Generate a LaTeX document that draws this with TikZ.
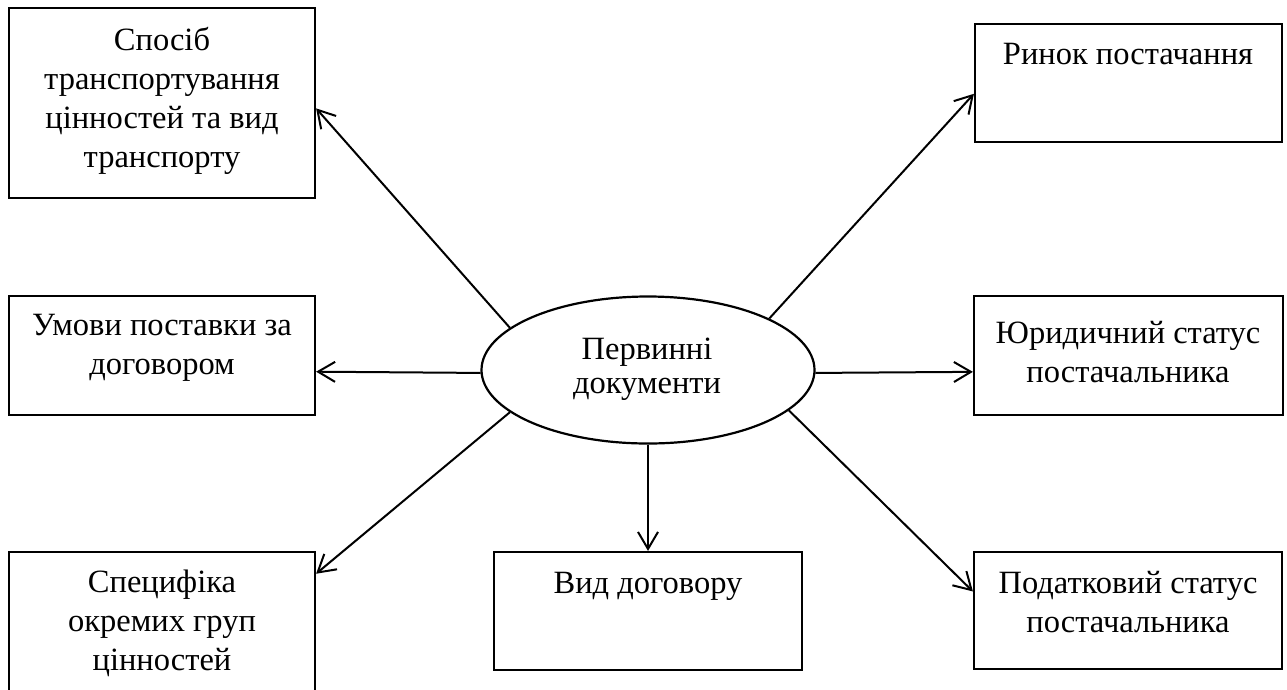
\documentclass[tikz,border=0pt]{standalone}
\usepackage{fontspec}
\setmainfont{Liberation Serif}
\usetikzlibrary{arrows.meta,shapes.geometric,calc}
\begin{document}
\begin{tikzpicture}[x=1pt,y=-1pt,
  box/.style={draw, line width=2.2pt, rectangle, inner sep=0pt},
  lbl/.style={anchor=north, inner sep=0pt, align=center, font=\fontsize{32.5}{39}\selectfont},
  arr/.style={line width=2pt, -{Straight Barb[length=17pt,width=20pt]}}]
\clip (0,0) rectangle (1287,689);
\fill[white] (0,0) rectangle (1287,689);
% boxes
\node[box, minimum width=306pt, minimum height=190pt] (tl) at (162,103) {};
\node[box, minimum width=307pt, minimum height=118pt] (tr) at (1128.5,83) {};
\node[box, minimum width=306pt, minimum height=119pt] (ml) at (162,355.5) {};
\node[box, minimum width=309pt, minimum height=119pt] (mr) at (1128.5,355.5) {};
\node[box, minimum width=306pt, minimum height=168pt] (bl) at (162,636) {};
\node[box, minimum width=308pt, minimum height=118pt] (bc) at (648,611) {};
\node[box, minimum width=308pt, minimum height=117pt] (br) at (1128,610.5) {};
\node[draw, ellipse, line width=2.2pt, minimum width=333pt, minimum height=147pt, inner sep=0pt] (el) at (648,370) {};
% texts
\node[lbl] (tlt) at (162,22.7) {\strut Спосіб\\транспортування\\цінностей та вид\\транспорту};
\node[lbl] (trt) at (1128,36.7) {\strut Ринок постачання};
\node[lbl] (mlt) at (162,307.7) {\strut Умови поставки за\\договором};
\node[lbl] (mrt) at (1128,315.7) {\strut Юридичний статус\\постачальника};
\node[lbl] (blt) at (162,564.7) {\strut Специфіка\\окремих груп\\цінностей};
\node[lbl] (bct) at (648,565.7) {\strut Вид договору};
\node[lbl] (brt) at (1128,565.7) {\strut Податковий статус\\постачальника};
\node[lbl, font=\fontsize{32.5}{34}\selectfont] (elt) at (647,335.7) {\strut Первинні\\документи};
% arrows
\draw[arr] (el.163) -- (tl.-2.6);
\draw[arr] (el.23) -- (tr.-176.6);
\draw[arr] (el.181.7) -- (ml.-6.5);
\draw[arr] (el.-1.5) -- (mr.186.1);
\draw[arr] (el.197.3) -- (bl.22.4);
\draw[arr] (el.-16.7) -- (br.173.5);
\draw[arr] (el.south) -- (bc.north);
\end{tikzpicture}
\end{document}
